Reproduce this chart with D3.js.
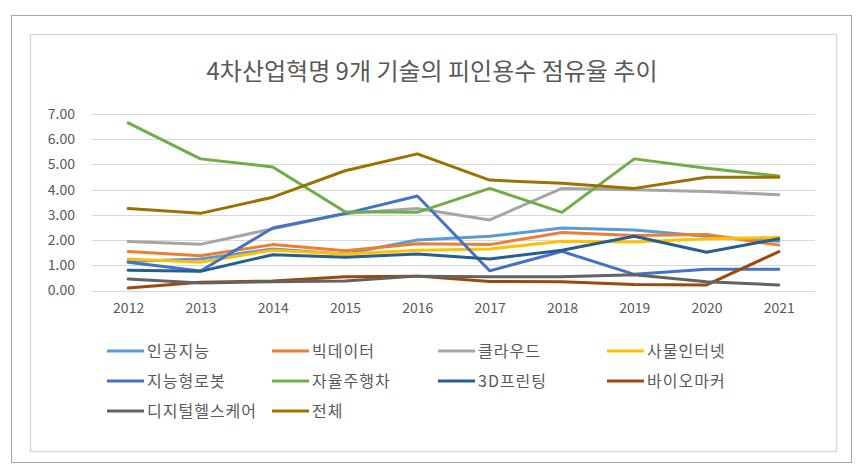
<!DOCTYPE html>
<html><head><meta charset="utf-8">
<script src="https://cdn.jsdelivr.net/npm/d3@7"></script>
<style>
html,body{margin:0;padding:0;background:#fff;}
svg{display:block;}
text{font-family:"Noto Sans CJK KR","Noto Sans",sans-serif;fill:#595959;}
</style></head>
<body>
<svg id="chart" width="861" height="467"></svg>
<script>
const title = "4차산업혁명 9개 기술의 피인용수 점유율 추이";
const years = ["2012","2013","2014","2015","2016","2017","2018","2019","2020","2021"];
const yTicks = [0,1,2,3,4,5,6,7];
const seriesNames = ["인공지능","빅데이터","클라우드","사물인터넷","지능형로봇","자율주행차","3D프린팅","바이오마커","디지털헬스케어","전체"];
const colors = ["#5B9BD5","#ED7D31","#A5A5A5","#FFC000","#4472C4","#70AD47","#255E91","#9E480E","#636363","#997300"];
const ai      = [1.15,1.25,1.65,1.45,2.00,2.15,2.48,2.40,2.15,1.95];
const bigdata = [1.55,1.38,1.82,1.58,1.85,1.82,2.30,2.18,2.22,1.80];
const cloud   = [1.94,1.83,2.45,3.05,3.25,2.80,4.05,4.00,3.93,3.80];
const iot     = [1.25,1.12,1.60,1.45,1.60,1.65,1.95,1.92,2.05,2.10];
const robot   = [1.12,0.77,2.48,3.05,3.75,0.78,1.55,0.64,0.84,0.84];
const auto    = [6.65,5.22,4.90,3.12,3.10,4.05,3.10,5.22,4.85,4.54];
const print3d = [0.80,0.76,1.42,1.32,1.45,1.25,1.60,2.15,1.52,2.05];
const bio     = [0.10,0.33,0.38,0.55,0.57,0.36,0.35,0.24,0.22,1.54];
const health  = [0.46,0.30,0.35,0.38,0.57,0.55,0.55,0.62,0.35,0.22];
const total   = [3.25,3.06,3.70,4.75,5.42,4.38,4.25,4.05,4.49,4.49];
const seriesValues = [ai,bigdata,cloud,iot,robot,auto,print3d,bio,health,total];

const svg = d3.select("#chart");
// frames
svg.append("rect").attr("x",11.5).attr("y",15.5).attr("width",840).attr("height",447)
  .attr("fill","none").attr("stroke","#a6a6a6").attr("stroke-width",1);
svg.append("rect").attr("x",30.5).attr("y",34.5).attr("width",806).attr("height",417)
  .attr("fill","#fff").attr("stroke","#d9d9d9").attr("stroke-width",1.5);

svg.append("text").attr("x",432).attr("y",80).attr("text-anchor","middle")
  .style("font-size","24px").attr("fill","#606060").text(title);

const x = d3.scalePoint().domain(years).range([92,815]).padding(0.5);
const y = d3.scaleLinear().domain([0,7]).range([290.5,114]);

const grid = svg.append("g");
grid.selectAll("line").data(yTicks).join("line")
  .attr("x1",92).attr("x2",815)
  .attr("y1",d=>Math.round(y(d))+0.5).attr("y2",d=>Math.round(y(d))+0.5)
  .attr("stroke","#d9d9d9").attr("stroke-width",1);

const yAxis = svg.append("g").attr("transform","translate(92,0)")
  .call(d3.axisLeft(y).tickValues(yTicks).tickFormat(d3.format(".2f")).tickSize(0).tickPadding(17));
yAxis.select(".domain").remove();
yAxis.selectAll("text").style("font-size","14px").attr("fill","#595959");

const xAxis = svg.append("g").attr("transform","translate(0,291)")
  .call(d3.axisBottom(x).tickSize(0).tickPadding(12));
xAxis.select(".domain").remove();
xAxis.selectAll("text").style("font-size","14px").attr("fill","#595959");

const line = d3.line().x((d,i)=>x(years[i])).y(d=>y(d));
svg.append("g").selectAll("path").data(seriesValues).join("path")
  .attr("d",line).attr("fill","none")
  .attr("stroke",(d,i)=>colors[i]).attr("stroke-width",3)
  .attr("stroke-linejoin","round").attr("stroke-linecap","round");

// legend
const colX = [107,272,438,607];
const rowY = [351,381,411];
const lg = svg.append("g").selectAll("g").data(seriesNames).join("g")
  .attr("transform",(d,i)=>`translate(${colX[i%4]},${rowY[Math.floor(i/4)]})`);
lg.append("line").attr("x1",0).attr("x2",37).attr("y1",0).attr("y2",0)
  .attr("stroke",(d,i)=>colors[i]).attr("stroke-width",3);
lg.append("text").attr("x",40).attr("y",6).style("font-size","16px")
  .style("letter-spacing","1px").text(d=>d);
</script>
</body></html>
